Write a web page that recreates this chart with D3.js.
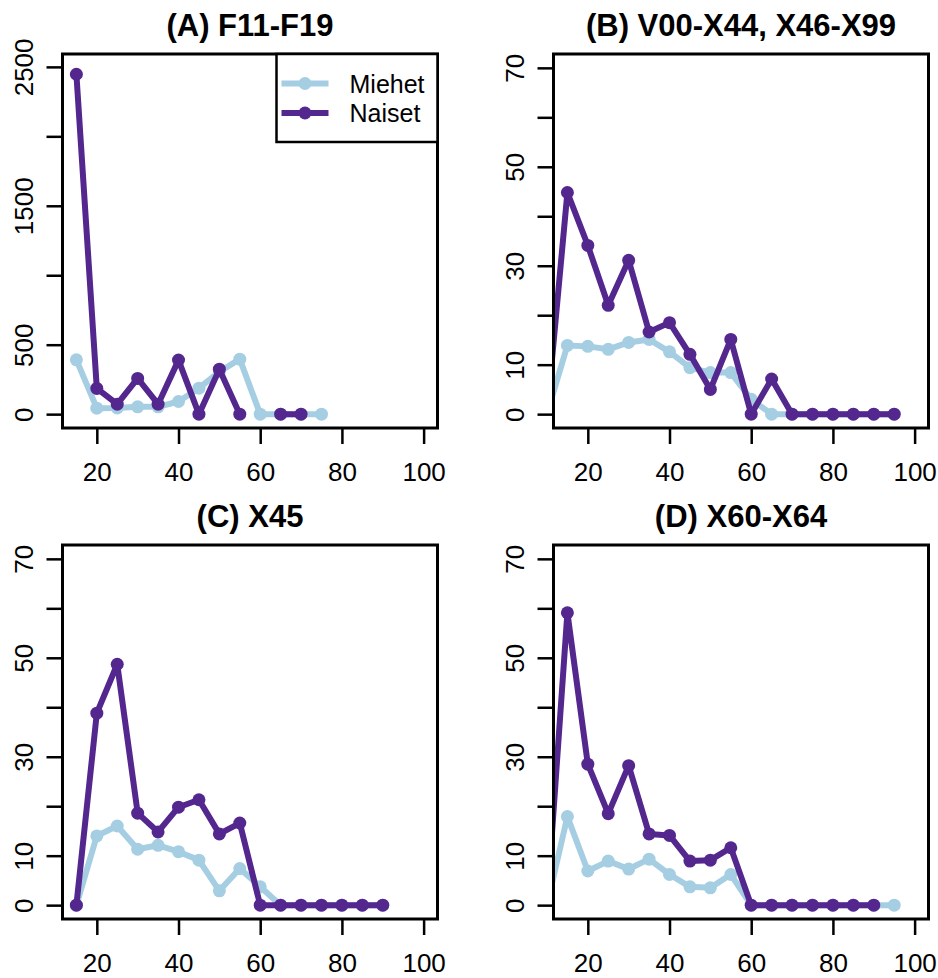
<!DOCTYPE html>
<html>
<head>
<meta charset="utf-8">
<script src="https://cdn.jsdelivr.net/npm/d3@7"></script>
<style>
  html, body { margin: 0; padding: 0; background: #ffffff; }
  svg { display: block; font-family: "Liberation Sans", Arial, Helvetica, sans-serif; }
</style>
</head>
<body>
<svg id="chart" width="938" height="978"></svg>
<script>
// ---------------- data ----------------
const seriesNames = ["Miehet", "Naiset"];
const panelTitles = ["(A) F11-F19", "(B) V00-X44, X46-X99", "(C) X45", "(D) X60-X64"];

const agesA = [15, 20, 25, 30, 35, 40, 45, 50, 55, 60, 65, 70, 75];
const miehetA = [391, 43, 45, 53, 53, 91, 187, 305, 396, 0, 0, 0, 0];
const naisetA = [2447, 185, 72, 257, 72, 389, 0, 324, 0, null, 0, 0, null];

const agesB = [10, 15, 20, 25, 30, 35, 40, 45, 50, 55, 60, 65, 70, 75, 80, 85, 90, 95];
const miehetB = [0, 13.9, 13.7, 13.1, 14.5, 15.1, 12.6, 9.4, 8.4, 8.4, 3.0, 0, 0, 0, 0, 0, 0, 0];
const naisetB = [0, 44.8, 34.1, 22.0, 31.1, 16.6, 18.5, 12.1, 5.0, 15.1, 0, 7.1, 0, 0, 0, 0, 0, 0];

const agesC = [15, 20, 25, 30, 35, 40, 45, 50, 55, 60, 65, 70, 75, 80, 85, 90];
const miehetC = [0, 14.0, 16.0, 11.3, 12.1, 10.8, 9.1, 2.9, 7.4, 3.7, 0, 0, 0, 0, 0, 0];
const naisetC = [0, 38.8, 48.7, 18.6, 14.8, 19.8, 21.3, 14.4, 16.6, 0, 0, 0, 0, 0, 0, 0];

const agesD = [10, 15, 20, 25, 30, 35, 40, 45, 50, 55, 60, 65, 70, 75, 80, 85, 90, 95];
const miehetD = [0, 17.9, 6.9, 8.9, 7.3, 9.3, 6.2, 3.7, 3.5, 6.2, 0, 0, 0, 0, 0, 0, 0, 0];
const naisetD = [0, 59.1, 28.5, 18.5, 28.2, 14.4, 14.1, 8.9, 9.1, 11.6, 0, 0, 0, 0, 0, 0, 0, null];

const xLimits = [15, 100];
const xTicks = [20, 40, 60, 80, 100];
const yLimitsA = [0, 2493];
const yTicksA = [0, 500, 1000, 1500, 2000, 2500];
const yLabelsA = [0, 500, 1500, 2500];
const yLimitsOther = [0, 70];
const yTicksOther = [0, 10, 20, 30, 40, 50, 60, 70];
const yLabelsOther = [0, 10, 30, 50, 70];

// ---------------- drawing ----------------
const colors = ["#a6cee3", "#54278f"];
const svg = d3.select("#chart");

const panels = [
  { title: panelTitles[0], ages: agesA, series: [miehetA, naisetA], ylim: yLimitsA, yt: yTicksA, yl: yLabelsA, left: 62.5, top: 54, legend: true },
  { title: panelTitles[1], ages: agesB, series: [miehetB, naisetB], ylim: yLimitsOther, yt: yTicksOther, yl: yLabelsOther, left: 553.5, top: 54 },
  { title: panelTitles[2], ages: agesC, series: [miehetC, naisetC], ylim: yLimitsOther, yt: yTicksOther, yl: yLabelsOther, left: 62.5, top: 545 },
  { title: panelTitles[3], ages: agesD, series: [miehetD, naisetD], ylim: yLimitsOther, yt: yTicksOther, yl: yLabelsOther, left: 553.5, top: 545 }
];
const W = 375, H = 374;
const pad = (lim) => { const r = lim[1] - lim[0]; return [lim[0] - 0.04 * r, lim[1] + 0.04 * r]; };

panels.forEach((p, i) => {
  const g = svg.append("g").attr("transform", `translate(${p.left},${p.top})`);
  const x = d3.scaleLinear().domain(pad(xLimits)).range([0, W]);
  const y = d3.scaleLinear().domain(pad(p.ylim)).range([H, 0]);

  const clipId = "clip" + i;
  g.append("clipPath").attr("id", clipId).append("rect")
    .attr("x", 0).attr("y", 0).attr("width", W).attr("height", H);

  // x axis
  const xAxis = d3.axisBottom(x).tickValues(xTicks).tickSize(16).tickPadding(14).tickFormat(d3.format("d"));
  const xa = g.append("g").attr("transform", `translate(0,${H})`).call(xAxis);
  xa.select(".domain").remove();
  xa.selectAll(".tick line").attr("stroke", "#000").attr("stroke-width", 2.5);
  xa.selectAll(".tick text").attr("font-size", 26).attr("fill", "#000")
    .attr("font-family", "'Liberation Sans', Arial, Helvetica, sans-serif")
    .attr("dy", null).attr("y", 53);

  // y axis
  const yAxis = d3.axisLeft(y).tickValues(p.yt).tickSize(16).tickFormat(d => p.yl.includes(d) ? String(d) : "");
  const ya = g.append("g").call(yAxis);
  ya.select(".domain").remove();
  ya.selectAll(".tick line").attr("stroke", "#000").attr("stroke-width", 2.5);
  ya.selectAll(".tick text").attr("font-size", 26).attr("fill", "#000")
    .attr("font-family", "'Liberation Sans', Arial, Helvetica, sans-serif")
    .attr("x", null).attr("dy", null)
    .attr("text-anchor", "middle")
    .attr("transform", "translate(-29.5,0) rotate(-90)");

  // series
  const plot = g.append("g").attr("clip-path", `url(#${clipId})`);
  p.series.forEach((vals, si) => {
    const pts = p.ages.map((a, k) => ({ a, v: vals[k] }));
    const line = d3.line().defined(d => d.v !== null).x(d => x(d.a)).y(d => y(d.v));
    plot.append("path").datum(pts)
      .attr("d", line).attr("fill", "none")
      .attr("stroke", colors[si]).attr("stroke-width", 6)
      .attr("stroke-linejoin", "round").attr("stroke-linecap", "butt");
    plot.selectAll(null).data(pts.filter(d => d.v !== null)).enter().append("circle")
      .attr("cx", d => x(d.a)).attr("cy", d => y(d.v)).attr("r", 6.5)
      .attr("fill", colors[si]);
  });

  // box
  g.append("rect").attr("x", 0).attr("y", 0).attr("width", W).attr("height", H)
    .attr("fill", "none").attr("stroke", "#000").attr("stroke-width", 3);

  // title
  g.append("text").attr("x", W / 2).attr("y", -18).attr("text-anchor", "middle")
    .attr("font-size", 31).attr("font-weight", "bold").attr("fill", "#000").text(p.title);

  // legend
  if (p.legend) {
    const lx = 214, lw = W - 214, lh = 88;
    const lg = g.append("g");
    lg.append("rect").attr("x", lx).attr("y", 0).attr("width", lw).attr("height", lh)
      .attr("fill", "#fff").attr("stroke", "#000").attr("stroke-width", 2.5);
    seriesNames.forEach((nm, si) => {
      const yy = 29.5 + si * 29.5;
      lg.append("line").attr("x1", lx + 5).attr("x2", lx + 52).attr("y1", yy).attr("y2", yy)
        .attr("stroke", colors[si]).attr("stroke-width", 6);
      lg.append("circle").attr("cx", lx + 28.5).attr("cy", yy).attr("r", 6.5).attr("fill", colors[si]);
      lg.append("text").attr("x", lx + 73).attr("y", yy + 9).attr("font-size", 25)
        .attr("fill", "#000").text(nm);
    });
  }
});
</script>
</body>
</html>
